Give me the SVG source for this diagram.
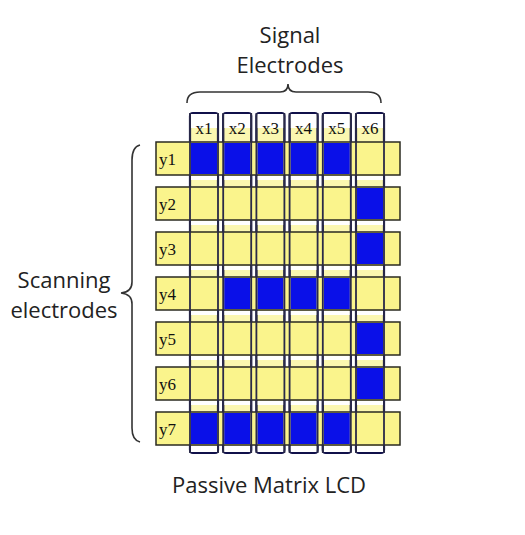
<svg xmlns="http://www.w3.org/2000/svg" width="525" height="535" viewBox="0 0 525 535">
<style>
.lbl{font-family:"Open Sans","Liberation Sans",sans-serif;font-size:22px;fill:#222}
.idx{font-family:"Liberation Serif","DejaVu Serif",serif;font-size:17px;fill:#111}
.row{fill:#FAF48C;stroke:#2a2a20;stroke-width:1.5}
.col{fill:#FBF7B0;stroke:#10104a;stroke-width:2.2}
.colline{fill:none;stroke:#2a2a48;stroke-width:1.8}
.blue{fill:#0A10E8}
.hdr{fill:#FFFFFF}
.brace{fill:none;stroke:#333;stroke-width:1.6}
</style>
<rect width="525" height="535" fill="#FFFFFF"/>
<g id="title-signal">
<text class="lbl" x="290" y="43" text-anchor="middle">Signal</text>
<text class="lbl" x="290" y="73" text-anchor="middle">Electrodes</text>
</g>
<g id="title-scanning">
<text class="lbl" x="64" y="288" text-anchor="middle">Scanning</text>
<text class="lbl" x="64" y="318" text-anchor="middle">electrodes</text>
</g>
<g id="title-lcd">
<text class="lbl" x="269" y="493" text-anchor="middle">Passive Matrix LCD</text>
</g>
<g id="connectors">
<path class="brace" d="M187,103 Q187,92 200,92 L280,92 Q288,92 288,84 Q288,92 296,92 L368,92 Q381,92 381,103"/>
<path class="brace" d="M140,145 Q132,147 132,160 L132,282 Q132,292 121,293 Q132,294 132,304 L132,428 Q132,440 140,442"/>
</g>
<g id="columns">
<rect class="col" x="190" y="113" width="28" height="340" rx="3"/>
<rect class="col" x="223.2" y="113" width="28" height="340" rx="3"/>
<rect class="col" x="256.4" y="113" width="28" height="340" rx="3"/>
<rect class="col" x="289.6" y="113" width="28" height="340" rx="3"/>
<rect class="col" x="322.8" y="113" width="28" height="340" rx="3"/>
<rect class="col" x="356" y="113" width="28" height="340" rx="3"/>
</g>
<g id="headers">
<rect class="hdr" x="191" y="114" width="26" height="14"/>
<rect class="hdr" x="224.2" y="114" width="26" height="14"/>
<rect class="hdr" x="257.4" y="114" width="26" height="14"/>
<rect class="hdr" x="290.6" y="114" width="26" height="14"/>
<rect class="hdr" x="323.8" y="114" width="26" height="14"/>
<rect class="hdr" x="357" y="114" width="26" height="14"/>
<text class="idx" x="204" y="134" text-anchor="middle">x1</text>
<text class="idx" x="237.2" y="134" text-anchor="middle">x2</text>
<text class="idx" x="270.4" y="134" text-anchor="middle">x3</text>
<text class="idx" x="303.6" y="134" text-anchor="middle">x4</text>
<text class="idx" x="336.8" y="134" text-anchor="middle">x5</text>
<text class="idx" x="370" y="134" text-anchor="middle">x6</text>
</g>
<g id="gaps" fill="#FFFFFF">
<rect x="191" y="176" width="26" height="4"/><rect x="224.2" y="176" width="26" height="4"/><rect x="257.4" y="176" width="26" height="4"/><rect x="290.6" y="176" width="26" height="4"/><rect x="323.8" y="176" width="26" height="4"/><rect x="357" y="176" width="26" height="4"/>
<rect x="191" y="221" width="26" height="4"/><rect x="224.2" y="221" width="26" height="4"/><rect x="257.4" y="221" width="26" height="4"/><rect x="290.6" y="221" width="26" height="4"/><rect x="323.8" y="221" width="26" height="4"/><rect x="357" y="221" width="26" height="4"/>
<rect x="191" y="266" width="26" height="4"/><rect x="224.2" y="266" width="26" height="4"/><rect x="257.4" y="266" width="26" height="4"/><rect x="290.6" y="266" width="26" height="4"/><rect x="323.8" y="266" width="26" height="4"/><rect x="357" y="266" width="26" height="4"/>
<rect x="191" y="311" width="26" height="4"/><rect x="224.2" y="311" width="26" height="4"/><rect x="257.4" y="311" width="26" height="4"/><rect x="290.6" y="311" width="26" height="4"/><rect x="323.8" y="311" width="26" height="4"/><rect x="357" y="311" width="26" height="4"/>
<rect x="191" y="356" width="26" height="4"/><rect x="224.2" y="356" width="26" height="4"/><rect x="257.4" y="356" width="26" height="4"/><rect x="290.6" y="356" width="26" height="4"/><rect x="323.8" y="356" width="26" height="4"/><rect x="357" y="356" width="26" height="4"/>
<rect x="191" y="401" width="26" height="4"/><rect x="224.2" y="401" width="26" height="4"/><rect x="257.4" y="401" width="26" height="4"/><rect x="290.6" y="401" width="26" height="4"/><rect x="323.8" y="401" width="26" height="4"/><rect x="357" y="401" width="26" height="4"/>
<rect x="191" y="446" width="26" height="6"/><rect x="224.2" y="446" width="26" height="6"/><rect x="257.4" y="446" width="26" height="6"/><rect x="290.6" y="446" width="26" height="6"/><rect x="323.8" y="446" width="26" height="6"/><rect x="357" y="446" width="26" height="6"/>
</g>
<g id="rows">
<rect class="row" x="156" y="142" width="244" height="33"/>
<rect class="row" x="156" y="187" width="244" height="33"/>
<rect class="row" x="156" y="232" width="244" height="33"/>
<rect class="row" x="156" y="277" width="244" height="33"/>
<rect class="row" x="156" y="322" width="244" height="33"/>
<rect class="row" x="156" y="367" width="244" height="33"/>
<rect class="row" x="156" y="412" width="244" height="33"/>
</g>
<g id="cells" class="blue">
<rect x="191" y="143" width="26" height="31"/><rect x="224.2" y="143" width="26" height="31"/><rect x="257.4" y="143" width="26" height="31"/><rect x="290.6" y="143" width="26" height="31"/><rect x="323.8" y="143" width="26" height="31"/>
<rect x="357" y="188" width="26" height="31"/>
<rect x="357" y="233" width="26" height="31"/>
<rect x="224.2" y="278" width="26" height="31"/><rect x="257.4" y="278" width="26" height="31"/><rect x="290.6" y="278" width="26" height="31"/><rect x="323.8" y="278" width="26" height="31"/>
<rect x="357" y="323" width="26" height="31"/>
<rect x="357" y="368" width="26" height="31"/>
<rect x="191" y="413" width="26" height="31"/><rect x="224.2" y="413" width="26" height="31"/><rect x="257.4" y="413" width="26" height="31"/><rect x="290.6" y="413" width="26" height="31"/><rect x="323.8" y="413" width="26" height="31"/>
</g>
<g id="column-lines" class="colline">
<path d="M190,113 V453 M218,113 V453 M223.2,113 V453 M251.2,113 V453 M256.4,113 V453 M284.4,113 V453 M289.6,113 V453 M317.6,113 V453 M322.8,113 V453 M350.8,113 V453 M356,113 V453 M384,113 V453"/>
</g>
<g id="row-labels">
<text class="idx" x="159" y="165">y1</text>
<text class="idx" x="159" y="210">y2</text>
<text class="idx" x="159" y="255">y3</text>
<text class="idx" x="159" y="300">y4</text>
<text class="idx" x="159" y="345">y5</text>
<text class="idx" x="159" y="390">y6</text>
<text class="idx" x="159" y="435">y7</text>
</g>
</svg>
